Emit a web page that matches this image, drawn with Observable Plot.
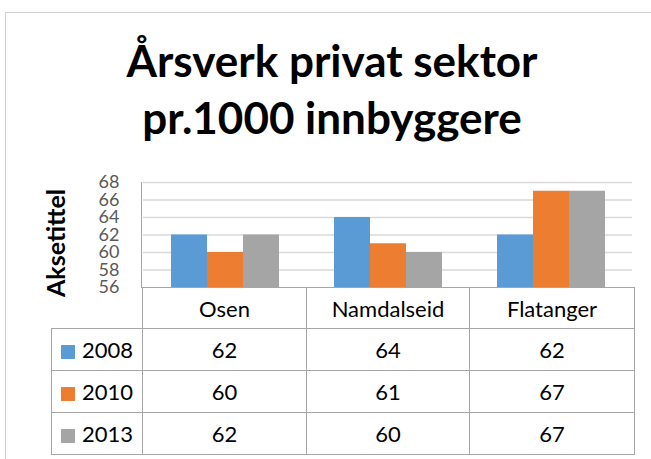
<!DOCTYPE html>
<html>
<head>
<meta charset="utf-8">
<script src="https://cdn.jsdelivr.net/npm/d3@7"></script>
<script src="https://cdn.jsdelivr.net/npm/@observablehq/plot@0.6"></script>
<style>
  html, body { margin: 0; padding: 0; background: #fff; }
  #chart { position: relative; width: 651px; height: 459px; overflow: hidden; font-family: Lato, "Open Sans", sans-serif; }
  #frame { position: absolute; left: 5px; top: 12px; width: 720px; height: 520px; border: 1px solid #d0d0d0; }
  #title { position: absolute; left: 5px; width: 654px; top: 32px; text-align: center; font-weight: bold; font-size: 44px; line-height: 57px; color: #000; }
  #plot { position: absolute; left: 0; top: 165px; }
  #ytitle { position: absolute; left: 55px; top: 243px; transform: translate(-50%, -50%) rotate(-90deg); font-weight: bold; font-size: 25px; color: #000; white-space: nowrap; }
  #leftline { position: absolute; left: 141px; top: 182px; width: 1px; height: 106px; background: #a6a6a6; }
  #table { position: absolute; left: 51px; top: 287px; border-collapse: collapse; table-layout: fixed; width: 583px; }
  #table td { border: 1px solid #a6a6a6; padding: 0; text-align: center; vertical-align: middle; font-size: 22px; color: #000; }
  #table tr.head td { height: 40px; }
  #table tr.row td { height: 41px; }
  #table td.corner { border-top: none; border-left: none; }
  #table td.leg { text-align: left; padding-left: 9px; }
  .sw { display: inline-block; width: 14px; height: 14px; margin-right: 7px; vertical-align: -1px; }
</style>
</head>
<body>
<div id="chart">
  <div id="frame"></div>
  <div id="title"></div>
  <div id="plot"></div>
  <div id="ytitle"></div>
  <div id="leftline"></div>
  <table id="table">
    <colgroup><col style="width:91px"><col style="width:164px"><col style="width:163px"><col style="width:165px"></colgroup>
    <tbody></tbody>
  </table>
</div>
<script>
const titleLines = ["Årsverk privat sektor", "pr.1000 innbyggere"];
const yTitle = "Aksetittel";
const categories = ["Osen", "Namdalseid", "Flatanger"];
const years = ["2008", "2010", "2013"];
const values2008 = [62, 64, 62];
const values2010 = [60, 61, 67];
const values2013 = [62, 60, 67];
const yTicks = [56, 58, 60, 62, 64, 66, 68];
const colors = ["#5B9BD5", "#ED7D31", "#A5A5A5"];

const series = [values2008, values2010, values2013];
const data = [];
years.forEach((yr, i) => categories.forEach((c, j) => data.push({category: c, year: yr, value: series[i][j]})));

document.getElementById("title").innerHTML = titleLines.join("<br>");
document.getElementById("ytitle").textContent = yTitle;

const plot = Plot.plot({
  width: 651,
  height: 125,
  marginLeft: 142,
  marginRight: 18,
  marginTop: 17,
  marginBottom: 3,
  style: {fontFamily: "Lato, sans-serif", fontSize: "18px", color: "#595959", background: "transparent", overflow: "visible"},
  fx: {domain: categories, padding: 0, axis: null, label: null},
  x: {domain: years, paddingInner: 0, paddingOuter: 0.75, axis: null},
  y: {domain: [yTicks[0], yTicks[yTicks.length - 1]], ticks: yTicks, tickSize: 0, tickPadding: 24, label: null},
  color: {domain: years, range: colors},
  marks: [
    Plot.gridY(yTicks.slice(1), {stroke: "#d9d9d9", strokeOpacity: 1, strokeWidth: 1.3}),
    Plot.barY(data, {fx: "category", x: "year", y1: yTicks[0], y2: "value", fill: "year"})
  ]
});
document.getElementById("plot").appendChild(plot);

const tbody = document.querySelector("#table tbody");
const head = document.createElement("tr");
head.className = "head";
head.innerHTML = '<td class="corner"></td>' + categories.map(c => `<td>${c}</td>`).join("");
tbody.appendChild(head);
years.forEach((yr, i) => {
  const tr = document.createElement("tr");
  tr.className = "row";
  tr.innerHTML = `<td class="leg"><span class="sw" style="background:${colors[i]}"></span>${yr}</td>` +
    series[i].map(v => `<td>${v}</td>`).join("");
  tbody.appendChild(tr);
});
</script>
</body>
</html>
